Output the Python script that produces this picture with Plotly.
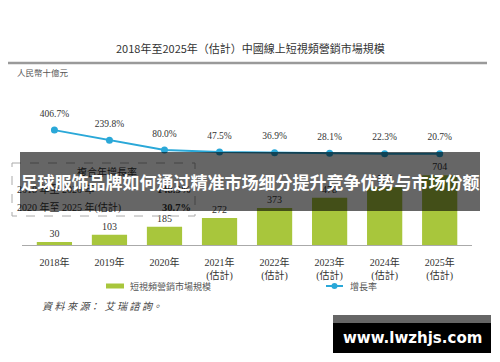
import plotly.graph_objects as go

categories = ["2018年", "2019年", "2020年", "2021年<br>(估計)", "2022年<br>(估計)",
              "2023年<br>(估計)", "2024年<br>(估計)", "2025年<br>(估計)"]
market_size = [30, 103, 185, 272, 373, 478, 584, 704]
growth_rate = [406.7, 239.8, 80.0, 47.5, 36.9, 28.1, 22.3, 20.7]
cagr_rows = [("2018 年至 2020 年", "148.3%"), ("2020 年至 2025 年(估計)", "30.7%")]

# page body has an 8px margin: the figure is drawn from (8, 8) in screen pixels
OFF = 8
W, H = 500 - OFF, 362 - OFF
def px(x): return (x - OFF) / W
def py(y): return 1 - (y - OFF) / H

SERIF = "Liberation Serif, Noto Sans CJK TC, serif"
SANS = "Noto Sans CJK TC, Noto Sans, sans-serif"
GREEN = "#a8c63c"
BLUE = "#2aa8d8"

fig = go.Figure()
fig.add_trace(go.Bar(
    x=categories, y=market_size, name="短視頻營銷市場規模",
    marker=dict(color=GREEN, line=dict(width=0)),
    texttemplate="%{y}", textposition="outside",
    textfont=dict(family=SERIF, size=10, color="#333"),
    cliponaxis=False, yaxis="y", showlegend=False,
))
fig.add_trace(go.Scatter(
    x=categories, y=growth_rate, name="增長率", mode="lines+markers",
    line=dict(color=BLUE, width=2), marker=dict(color=BLUE, size=7),
    cliponaxis=False, yaxis="y2", showlegend=False,
))
# growth-rate labels (invisible larger markers give the label offset)
fig.add_trace(go.Scatter(
    x=categories, y=growth_rate, mode="markers+text",
    marker=dict(size=16, opacity=0), texttemplate="%{y:.1f}%", textposition="top center",
    textfont=dict(family=SERIF, size=9.5, color="#333"),
    cliponaxis=False, yaxis="y2", showlegend=False, hoverinfo="skip",
))

def ann(text, x, y, size, family=SERIF, color="#333", xanchor="center", **kw):
    d = dict(text=text, x=px(x), y=py(y), xref="paper", yref="paper", xanchor=xanchor,
             yanchor="middle", showarrow=False, font=dict(family=family, size=size, color=color))
    d.update(kw)
    return d

shapes = [
    dict(type="line", xref="paper", yref="paper", x0=px(8), x1=px(487), y0=py(63), y1=py(63),
         line=dict(color="#9a9a9a", width=2.5)),
    dict(type="rect", xref="paper", yref="paper", x0=px(12), x1=px(195), y0=py(163), y1=py(216),
         line=dict(color="#aaaaaa", width=1, dash="dash"), layer="above"),
    # legend: bar swatch
    dict(type="rect", xref="paper", yref="paper", x0=px(106), x1=px(124), y0=py(283.5), y1=py(288.5),
         line=dict(width=0), fillcolor=GREEN),
    # legend: line + marker
    dict(type="line", xref="paper", yref="paper", x0=px(326), x1=px(343), y0=py(286), y1=py(286),
         line=dict(color=BLUE, width=2)),
    dict(type="circle", xref="paper", yref="paper", x0=px(331.5), x1=px(337.5), y0=py(283), y1=py(289),
         line=dict(width=0), fillcolor=BLUE),
    # watermark boxes
    dict(type="rect", xref="paper", yref="paper", x0=px(333), x1=px(491), y0=py(315), y1=py(323),
         line=dict(width=0), fillcolor="#666666", layer="above"),
    dict(type="rect", xref="paper", yref="paper", x0=px(333), x1=px(491), y0=py(323), y1=py(353),
         line=dict(width=0), fillcolor="black", layer="above"),
]

annotations = [
    ann("2018年至2025年（估計）中國線上短視頻營銷市場規模", 250, 48, 11, family=SANS),
    ann("人民幣十億元", 15, 73, 8.5, color="#555", xanchor="left"),
    ann("複合年增長率", 107, 172, 10),
    ann("短視頻營銷市場規模", 128, 286, 9, color="#555", xanchor="left"),
    ann("增長率", 348, 286, 9, color="#555", xanchor="left"),
]
for i, (lab, val) in enumerate(cagr_rows):
    yy = 189 + i * 18
    annotations.append(ann(lab, 15, yy, 10, xanchor="left"))
    annotations.append(ann("<b>" + val + "</b>", 193, yy, 10.5, xanchor="right"))
annotations.append(ann("資 料 來 源：  艾 瑞 諮 詢。", 40, 306, 10, color="#444", xanchor="left"))
annotations[-1]["font"]["style"] = "italic"
# overlay banner
annotations.append(ann("<b>足球服饰品牌如何通过精准市场细分提升竞争优势与市场份额</b>", 250, 181.5, 17,
                       family=SANS, color="white", width=460, height=59,
                       bgcolor="rgba(0,0,0,0.6)", borderpad=0, borderwidth=0))
# watermark text
annotations.append(ann("<b>www.lwzhjs.com</b>", 412, 338, 15, family="DejaVu Sans", color="white"))

fig.update_layout(
    width=W, height=H, margin=dict(l=0, r=0, t=0, b=0),
    paper_bgcolor="white", plot_bgcolor="white",
    bargap=0.36, showlegend=False,
    xaxis=dict(domain=[px(21.9), px(472.2)], showline=True, linecolor="#aaaaaa", linewidth=1,
               showgrid=False, ticks="", ticklabelstandoff=8,
               tickfont=dict(family=SERIF, size=10, color="#333")),
    yaxis=dict(domain=[py(245), py(100)], range=[0, 1464.6], visible=False, showgrid=False),
    yaxis2=dict(overlaying="y", range=[-1470.6, 898.7], visible=False, showgrid=False),
    shapes=shapes, annotations=annotations,
)
fig.write_html("out.html")
